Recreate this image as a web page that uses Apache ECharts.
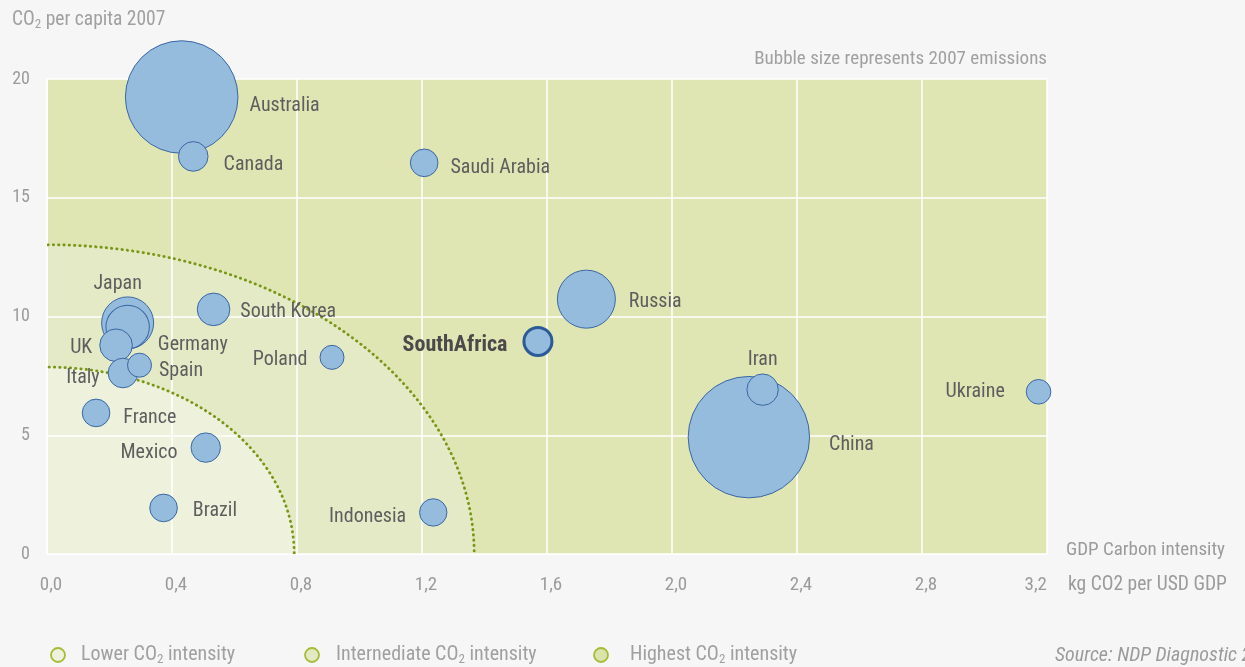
<!DOCTYPE html>
<html>
<head>
<meta charset="utf-8">
<title>CO2 per capita vs GDP carbon intensity</title>
<script src="https://cdn.jsdelivr.net/npm/echarts@6/dist/echarts.min.js"></script>
<style>
    html, body { margin: 0; padding: 0; background: #f6f6f6; }
    #chart { width: 1245px; height: 667px; }
</style>
</head>
<body>
<div id="chart"></div>
<script>
// values
var countries = ['Australia', 'Canada', 'Saudi Arabia', 'Japan', 'Germany', 'UK', 'Italy', 'Spain', 'France',
    'Mexico', 'Brazil', 'South Korea', 'Poland', 'Indonesia', 'SouthAfrica', 'Russia', 'China', 'Iran', 'Ukraine'];
var carbonIntensity = [0.431, 0.468, 1.207, 0.258, 0.258, 0.221, 0.243, 0.296, 0.157,
    0.508, 0.373, 0.533, 0.912, 1.236, 1.571, 1.726, 2.246, 2.290, 3.173];
var co2PerCapita = [19.24, 16.74, 16.47, 9.73, 9.56, 8.79, 7.62, 7.95, 5.94,
    4.48, 1.94, 10.30, 8.28, 1.75, 8.95, 10.73, 4.92, 6.92, 6.83];
var emissions2007 = [4950, 342, 298, 1056, 736, 415, 342, 225, 298,
    338, 298, 415, 225, 293, 306, 1314, 5757, 385, 236];

// intensity zones (quarter ellipses): lower, intermediate
var zoneRadiusX = [0.791, 1.367];
var zoneRadiusY = [7.87, 13.02];
var zoneNames = ['Lower CO2 intensity', 'Internediate CO2 intensity', 'Highest CO2 intensity'];

var xMax = 3.2, yMax = 20;

var FONT = "'Liberation Sans Narrow', 'Roboto Condensed', 'DejaVu Sans Condensed', sans-serif";
var zoneColors = ['#eef2dc', '#e5eac6', '#dfe5b3'];
var legendColors = ['#eef2dc', '#e3e9c2', '#dbe3ac'];
var GREY = '#a0a0a0';

// label placement: position, distance, dx, dy
var labelPlace = {
    'Australia': ['right', 11, 0, 9],
    'Canada': ['right', 15, 0, 9],
    'Saudi Arabia': ['right', 12, 0, 5],
    'Japan': ['top', 2, -10, 0],
    'Germany': ['right', 8, 0, 18],
    'UK': ['left', 7, 0, 3],
    'Italy': ['left', 8, 0, 5],
    'Spain': ['right', 7, 0, 6],
    'France': ['right', 13, 0, 5],
    'Mexico': ['left', 13, 0, 5],
    'Brazil': ['right', 15, 0, 3],
    'South Korea': ['right', 10, 0, 3],
    'Poland': ['left', 12, 0, 3],
    'Indonesia': ['left', 13, 0, 5],
    'SouthAfrica': ['left', 15, 0, 4],
    'Russia': ['right', 13, 0, 3],
    'China': ['right', 19, 0, 8],
    'Iran': ['top', 3, 0, 0],
    'Ukraine': ['left', 21, 0, 0]
};

var bubbles = countries.map(function (name, i) {
    var p = labelPlace[name];
    var item = {
        name: name,
        value: [carbonIntensity[i], co2PerCapita[i], emissions2007[i]],
        label: { position: p[0], distance: p[1], offset: [p[2], p[3]] }
    };
    if (name === 'SouthAfrica') {
        item.itemStyle = { borderWidth: 3, borderColor: '#2d5b99' };
        item.label.fontWeight = 'bold';
        item.label.fontSize = 22;
        item.label.color = '#4a4a4a';
    }
    return item;
});

function co2Rich(size) {
    return {
        n: { fontFamily: FONT, fontSize: size, fill: GREY, lineHeight: 22 },
        s: { fontFamily: FONT, fontSize: 13, fill: GREY, verticalAlign: 'bottom', lineHeight: 16 }
    };
}
// split on "CO2" so the 2 can be set as a subscript
function co2Text(str) {
    var parts = str.split('CO2');
    return '{n|' + parts[0] + 'CO}{s|2}{n|' + parts[1] + '}';
}

var graphics = [
    {
        type: 'text', left: 12, top: 10,
        style: { text: co2Text('CO2 per capita 2007'), rich: co2Rich(19.5) }
    },
    {
        type: 'text', right: 198, top: 50,
        style: { text: 'Bubble size represents 2007 emissions', fontFamily: FONT, fontSize: 19, fill: GREY }
    },
    {
        type: 'text', left: 1066, top: 541,
        style: { text: 'GDP Carbon intensity', fontFamily: FONT, fontSize: 19, fill: '#9b9b9b' }
    },
    {
        type: 'text', left: 1068, top: 575,
        style: { text: 'kg CO2 per USD GDP', fontFamily: FONT, fontSize: 19.5, fill: '#9b9b9b' }
    },
    {
        type: 'text', left: 1055, top: 646,
        style: { text: 'Source: NDP Diagnostic 2011', fontFamily: FONT, fontSize: 20, fontStyle: 'italic', fill: '#9b9b9b' }
    }
];
var legendX = [58, 312, 601];
var legendTextX = [81, 336, 630];
zoneNames.forEach(function (nm, i) {
    graphics.push({
        type: 'circle', shape: { cx: legendX[i], cy: 655, r: 7 },
        style: { fill: legendColors[i], stroke: '#a7bb35', lineWidth: 1.8 }
    });
    graphics.push({
        type: 'text', left: legendTextX[i], top: 645,
        style: { text: co2Text(nm), rich: co2Rich(20) }
    });
});

var chart = echarts.init(document.getElementById('chart'));
chart.setOption({
    backgroundColor: '#f6f6f6',
    animation: false,
    textStyle: { fontFamily: FONT },
    grid: { left: 47, right: 198, top: 79, bottom: 113 },
    xAxis: {
        type: 'value', min: 0, max: xMax, interval: 0.4,
        axisLine: { show: true, lineStyle: { color: '#ffffff', width: 1 } },
        axisTick: { show: false },
        splitLine: { lineStyle: { color: '#ffffff', width: 1.5 } },
        axisLabel: {
            color: '#9b9b9b', fontSize: 19, margin: 22, padding: [0, 0, 0, 8],
            alignMaxLabel: 'right',
            formatter: function (v) { return v.toFixed(1).replace('.', ','); }
        }
    },
    yAxis: {
        type: 'value', min: 0, max: yMax, interval: 5,
        axisLine: { show: true, lineStyle: { color: '#ffffff', width: 1 } },
        axisTick: { show: false },
        splitLine: { lineStyle: { color: '#ffffff', width: 1.5 } },
        axisLabel: { color: '#9b9b9b', fontSize: 18, margin: 17 }
    },
    graphic: graphics,
    series: [
        {
            // background zones
            type: 'custom', z: -1, silent: true, clip: true,
            data: [[0, 0]],
            renderItem: function (params, api) {
                var o = api.coord([0, 0]);
                var c = api.coord([xMax, yMax]);
                var kids = [{
                    type: 'rect',
                    shape: { x: o[0], y: c[1], width: c[0] - o[0], height: o[1] - c[1] },
                    style: { fill: zoneColors[2] }
                }];
                for (var i = zoneRadiusX.length - 1; i >= 0; i--) {
                    var p = api.coord([zoneRadiusX[i], zoneRadiusY[i]]);
                    kids.push({
                        type: 'ellipse',
                        shape: { cx: o[0], cy: o[1], rx: p[0] - o[0], ry: o[1] - p[1] },
                        style: { fill: zoneColors[i] }
                    });
                }
                return { type: 'group', children: kids };
            }
        },
        {
            // dotted zone borders
            type: 'custom', z: 1, silent: true, clip: true,
            data: [[0, 0]],
            renderItem: function (params, api) {
                var o = api.coord([0, 0]);
                var kids = [];
                for (var i = 0; i < zoneRadiusX.length; i++) {
                    var p = api.coord([zoneRadiusX[i], zoneRadiusY[i]]);
                    kids.push({
                        type: 'ellipse',
                        shape: { cx: o[0], cy: o[1], rx: p[0] - o[0], ry: o[1] - p[1] },
                        style: { fill: null, stroke: '#789717', lineWidth: 2.8, lineDash: [0.4, 4.9], lineCap: 'round' }
                    });
                }
                return { type: 'group', children: kids };
            }
        },
        {
            type: 'scatter',
            z: 2,
            data: bubbles,
            symbolSize: function (val) { return Math.sqrt(val[2]) * 1.6; },
            itemStyle: { color: '#95bbdd', borderColor: '#3a67a3', borderWidth: 1, opacity: 1 },
            label: {
                show: true,
                formatter: '{b}',
                fontFamily: FONT,
                fontSize: 20,
                color: '#5e5e5e'
            },
            emphasis: { disabled: true }
        }
    ]
});
</script>
</body>
</html>
